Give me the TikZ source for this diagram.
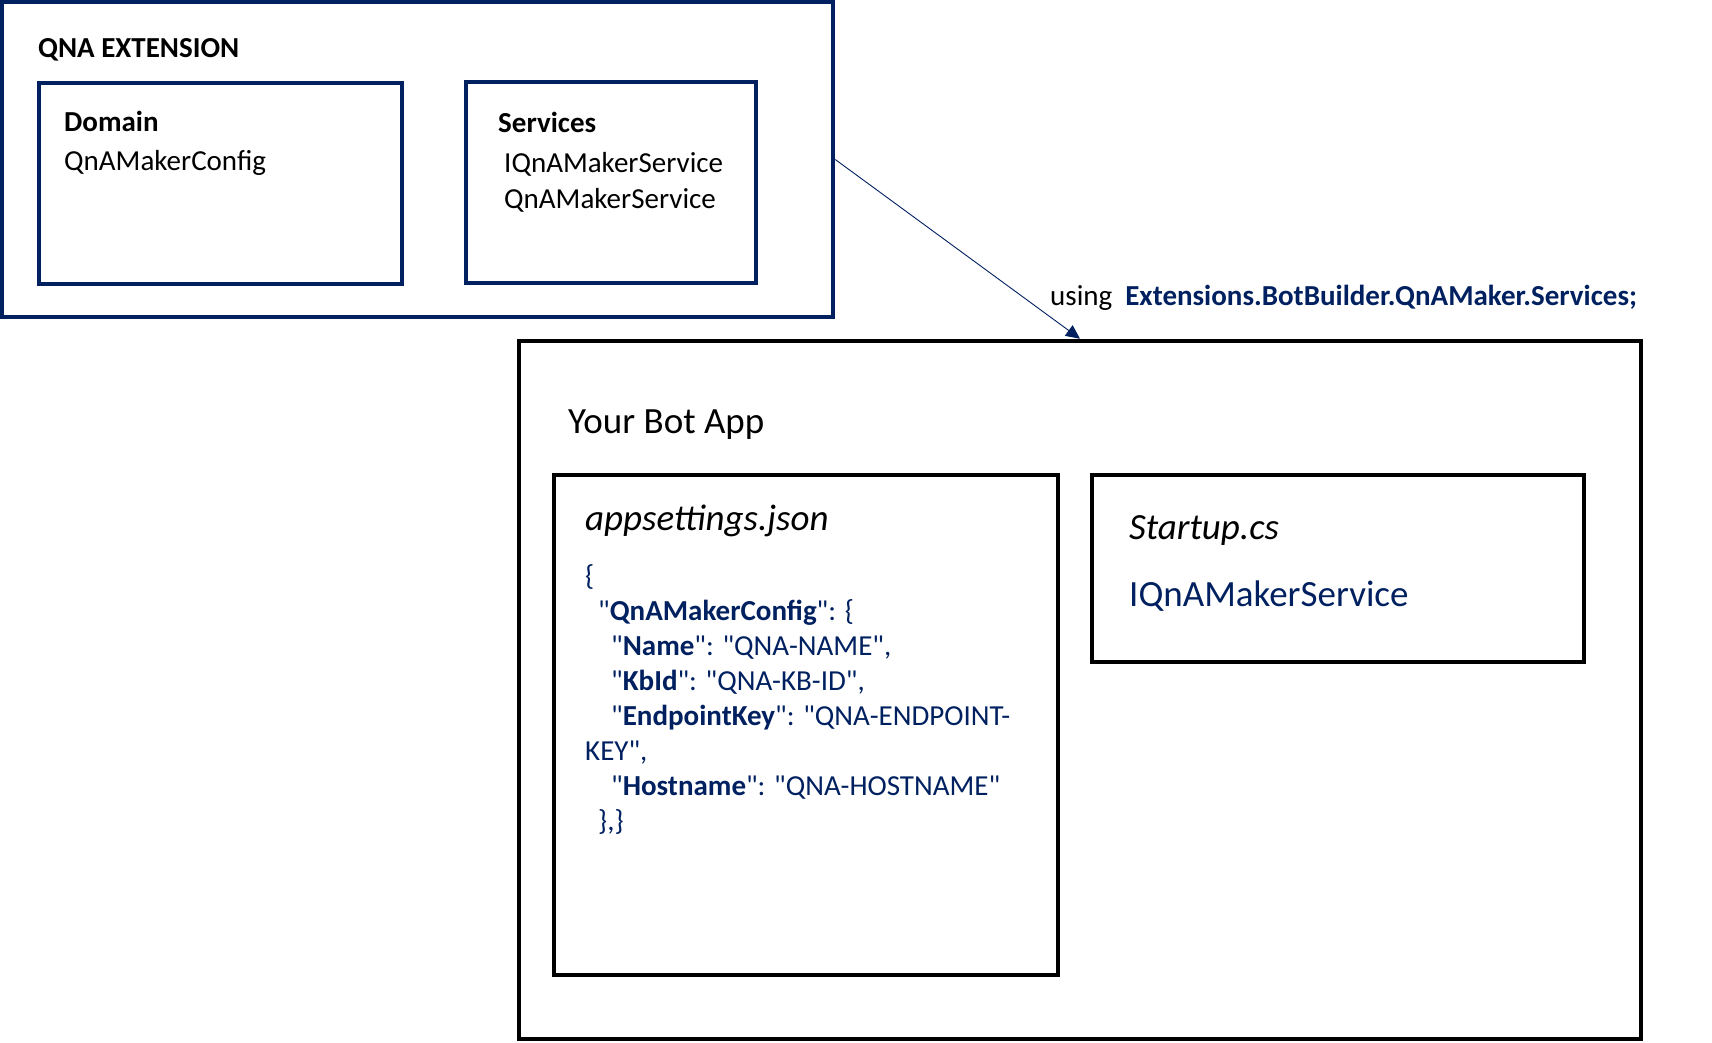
\documentclass[tikz,border=0pt]{standalone}
\usepackage{fontspec}
\setmainfont[Ligatures=TeXOff]{Carlito}
\usetikzlibrary{arrows.meta}
\definecolor{navy}{HTML}{002060}

\begin{document}
\begin{tikzpicture}[x=1pt,y=-1pt,inner sep=0pt,
    extbox/.style={draw=navy,line width=4.5pt,rectangle},
    appbox/.style={draw=black,line width=4.5pt,rectangle},
    txt/.style={font=\fontsize{29}{35}\selectfont,anchor=base west},
    bigtxt/.style={font=\fontsize{37}{44}\selectfont,anchor=base west},
    json/.style={txt,text=navy},
    uses/.style={-{Triangle[length=14pt,width=13pt]},draw=navy,line width=0.9pt}]
  \useasboundingbox (0,0) rectangle (1712,1043);

  \node[extbox,minimum width=831pt,minimum height=315pt] (qna) at (417.5,159.5) {};
  \node[extbox,line width=4pt,minimum width=363pt,minimum height=201pt] (domain) at (220.5,183.5) {};
  \node[extbox,line width=4pt,minimum width=290pt,minimum height=201pt] (services) at (611,182.5) {};
  \node[txt] (qnatitle) at (38,58) {\bfseries QNA EXTENSION};
  \node[txt] (domaintitle) at (64,132) {\bfseries Domain};
  \node[txt] (config) at (64,171) {QnAMakerConfig};
  \node[txt] (servicestitle) at (498,133) {\bfseries Services};
  \node[txt] (iservice) at (504,173) {IQnAMakerService};
  \node[txt] (service) at (504,208) {QnAMakerService};

  \node[appbox,minimum width=1122pt,minimum height=698pt] (bot) at (1080,690) {};
  \node[appbox,minimum width=504pt,minimum height=500pt] (appsettings) at (806,725) {};
  \node[appbox,minimum width=492pt,minimum height=187pt] (startup) at (1338,568.5) {};
  \node[bigtxt] (bottitle) at (568,433) {Your Bot App};
  \node[bigtxt] (settingstitle) at (585,530) {\itshape appsettings.json};
  \node[bigtxt] (startuptitle) at (1129,539) {\itshape Startup.cs};
  \node[bigtxt,text=navy] (startupservice) at (1129,606) {IQnAMakerService};

  \foreach \ind/\line [count=\i] in {
      0/{\{},
      13/{"\textbf{QnAMakerConfig}": \{},
      26/{"\textbf{Name}": "QNA-NAME",},
      26/{"\textbf{KbId}": "QNA-KB-ID",},
      26/{"\textbf{EndpointKey}": "QNA-ENDPOINT-},
      0/{KEY",},
      26/{"\textbf{Hostname}": "QNA-HOSTNAME"},
      13/{\},\}}}
    \node[json] (json\i) at (585+\ind,550+35*\i) {\line};

  \node[txt] (using) at (1050,305) {using\hspace{13pt}\textcolor{navy}{\bfseries Extensions.BotBuilder.QnAMaker.Services;}};

  \draw[uses] (qna.east) -- (bot.north);
\end{tikzpicture}
\end{document}
